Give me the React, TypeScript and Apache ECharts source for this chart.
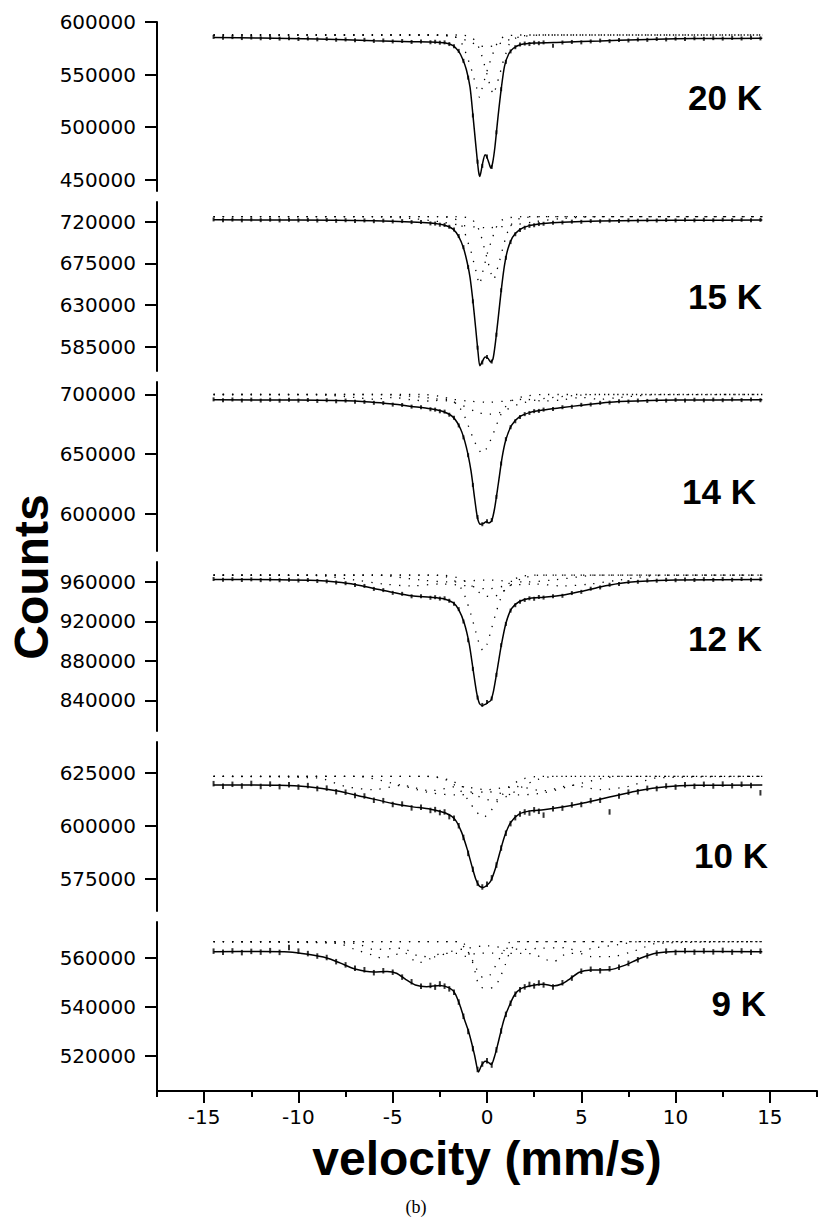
import { useEffect, useRef } from "react";
import * as echarts from "echarts";

// ---------- data ----------
const velocity = [
  -14.5, -14, -13.5, -13, -12.5, -12, -11.5, -11, -10.5, -10, -9.5, -9, -8.5, -8, -7.5, -7, -6.5, -6, -5.5, -5, -4.5, -4, -3.5, -3,
  -2.75, -2.5, -2.25, -2, -1.75, -1.5, -1.25, -1, -0.75, -0.5, -0.25, 0, 0.25, 0.5, 0.75, 1, 1.25, 1.5, 1.75, 2, 2.25, 2.5, 2.75,
  3, 3.5, 4, 4.5, 5, 5.5, 6, 6.5, 7, 7.5, 8, 8.5, 9, 9.5, 10, 10.5, 11, 11.5, 12, 12.5, 13, 13.5, 14, 14.5,
];

const obs20K = [
  585800, 585000, 585600, 584700, 585200, 584500, 584900, 584200, 584600, 583800, 584300, 583500, 583900, 583100, 583400, 582600, 583000, 582000, 582400, 581500, 581900, 581000, 581500, 580700,
  581200, 580300, 580600, 579000, 577000, 572500, 563000, 547000, 511000, 467000, 463000, 472000, 462000, 495000, 536000, 562000, 572000, 576000, 578500, 579500, 579000, 580300, 579800,
  580600, 577500, 580500, 581000, 580600, 581500, 582300, 581800, 582800, 582400, 583300, 583000, 583800, 583400, 584200, 583800, 584500, 584000, 584600, 584200, 584800, 584300, 584900, 584400,
];
const obs15K = [
  722500, 721600, 722300, 721500, 722400, 721700, 722200, 721400, 722100, 721500, 722000, 721300, 721800, 721000, 721600, 720900, 721400, 720600, 721100, 720300, 720700, 719600, 719800, 718200,
  718000, 716800, 716500, 714500, 711500, 704500, 692500, 671000, 634000, 584000, 568000, 574000, 569000, 598000, 646000, 681000, 698000, 706500, 711000, 713500, 715500, 716200, 717500,
  717800, 718900, 719200, 720100, 719900, 720700, 720500, 721200, 720900, 721500, 721100, 721700, 721300, 721900, 721400, 722000, 721500, 722100, 721600, 722200, 721700, 722100, 721600, 722000,
];
const obs14K = [
  695900, 695100, 695800, 695000, 695700, 694900, 695600, 694800, 695500, 694900, 695400, 694600, 695200, 694300, 694900, 694000, 693800, 693000, 692800, 691500, 691200, 689800, 689300, 687600,
  687300, 685900, 685600, 683000, 680500, 674000, 664000, 649000, 624000, 597000, 591000, 593500, 594500, 614000, 642000, 662500, 672500, 677500, 681000, 683500, 684500, 686000, 686200,
  687300, 687900, 689300, 689700, 691300, 691600, 693000, 693200, 694300, 694100, 694900, 694600, 695300, 694900, 695500, 695000, 695600, 695100, 695700, 695200, 695800, 695300, 695700, 695200,
];
const obs12K = [
  963000, 962200, 962900, 962000, 962700, 961900, 962600, 961800, 962400, 961500, 962000, 961000, 960700, 959500, 958800, 957000, 956000, 953000, 951800, 949000, 948000, 945500, 945600, 944000,
  944600, 943200, 943500, 941000, 938000, 932500, 920000, 901000, 872000, 843000, 835500, 838500, 842000, 866000, 896000, 917500, 931000, 936500, 940000, 941800, 943500, 943000, 944800,
  944200, 945500, 946000, 948800, 950000, 953200, 954500, 957200, 958000, 960000, 960200, 961500, 961300, 962200, 961800, 962600, 962000, 962800, 962100, 962900, 962200, 963000, 962300, 962800,
];
const obs10K = [
  619800, 618600, 619500, 618700, 619900, 618500, 619600, 618400, 619300, 618200, 618900, 617500, 617700, 616000, 615800, 614200, 614000, 612000, 611800, 610000, 610200, 608400, 608700, 607200,
  607600, 606200, 606500, 604300, 603500, 600000, 594500, 587000, 579500, 573000, 571200, 572500, 575500, 581500, 589500, 596500, 601000, 603800, 605500, 606500, 606000, 607500, 606800,
  605000, 608000, 608300, 609800, 610000, 611800, 612000, 606500, 614000, 615800, 616000, 617600, 617500, 618700, 618200, 619300, 618600, 619500, 618700, 619600, 618800, 619500, 618900, 615500,
];
const obs9K = [
  562800, 562300, 562900, 562200, 562700, 562400, 563000, 562300, 564300, 562800, 561800, 560800, 560200, 558500, 557200, 555800, 555200, 554000, 554800, 554200, 552200, 550300, 548500, 548800,
  548100, 549400, 548500, 547400, 546000, 542000, 536200, 530000, 523000, 514500, 516700, 518000, 516300, 522500, 530200, 537000, 541500, 545200, 547000, 548200, 549200, 548600, 549800,
  549000, 548200, 549900, 551800, 554600, 555400, 554800, 555600, 556200, 557800, 559300, 560900, 562000, 562800, 562300, 563000, 562400, 562900, 562500, 563100, 562400, 562900, 562300, 562800,
];

const fit20K = [
  [-14.5, 585300], [-12, 584800], [-9, 583800], [-6, 582200], [-4, 581300], [-3, 581000], [-2.2, 580000], [-1.8, 577500], [-1.5, 572000], [-1.3, 565000], [-1.1, 555000], [-0.9, 538000], [-0.75, 512000], [-0.6, 484000], [-0.45, 458000], [-0.38, 453000], [-0.25, 464000], [-0.1, 473500], [0, 471000], [0.1, 466000], [0.2, 461000], [0.3, 466000], [0.42, 481000], [0.58, 509000], [0.76, 537000], [0.93, 558000], [1.15, 569500], [1.4, 575000], [1.8, 578500], [2.5, 580000], [4, 580800], [6, 582000], [8, 583200], [10, 584000], [12, 584300], [14.6, 584500],
];
const fit15K = [
  [-14.5, 722000], [-10, 721800], [-6, 721000], [-4, 719800], [-3, 718500], [-2.2, 716000], [-1.8, 712000], [-1.5, 704000], [-1.25, 692000], [-1.05, 676000], [-0.9, 660000], [-0.75, 635000], [-0.6, 605000], [-0.47, 578000], [-0.38, 564500], [-0.25, 569000], [-0.1, 574000], [0.05, 572500], [0.2, 568500], [0.32, 572000], [0.45, 590000], [0.6, 617000], [0.75, 645000], [0.92, 672000], [1.1, 690000], [1.35, 703000], [1.7, 711000], [2.2, 715500], [3, 718000], [4, 719500], [6, 720800], [10, 721500], [14.6, 721800],
];
const fit14K = [
  [-14.5, 695500], [-10, 695300], [-7, 694500], [-5, 692000], [-4, 690000], [-3, 688000], [-2.3, 685500], [-1.8, 681000], [-1.4, 671000], [-1.1, 656000], [-0.85, 636000], [-0.65, 612000], [-0.5, 596000], [-0.35, 591000], [-0.2, 591500], [-0.05, 593000], [0.1, 592000], [0.25, 594000], [0.4, 604000], [0.6, 625000], [0.8, 647000], [1.0, 662000], [1.3, 674000], [1.7, 681000], [2.3, 685000], [3, 687000], [4, 689000], [5, 691000], [6.5, 693500], [8, 694500], [10, 695300], [14.6, 695500],
];
const fit12K = [
  [-14.5, 962500], [-11, 962300], [-9, 961500], [-8, 960000], [-7, 957500], [-6, 953500], [-5, 949500], [-4, 946000], [-3, 944500], [-2.3, 943000], [-1.8, 939000], [-1.5, 932000], [-1.2, 918000], [-0.95, 898000], [-0.75, 873000], [-0.55, 848000], [-0.4, 837000], [-0.25, 835000], [-0.1, 836000], [0.05, 838000], [0.2, 840000], [0.35, 850000], [0.55, 872000], [0.75, 895000], [1.0, 918000], [1.3, 933000], [1.7, 940000], [2.3, 943500], [3, 944500], [4, 946500], [5, 950500], [6, 955000], [7, 958500], [8, 960500], [10, 962000], [14.6, 962500],
];
const fit10K = [
  [-14.5, 619200], [-11, 619000], [-9.5, 618300], [-8, 616500], [-6.5, 613500], [-5, 610500], [-4, 609000], [-3, 607800], [-2.2, 606000], [-1.7, 603000], [-1.35, 597000], [-1.05, 589000], [-0.8, 581000], [-0.6, 575000], [-0.4, 571500], [-0.2, 571000], [0, 572000], [0.2, 574000], [0.45, 580000], [0.7, 588000], [0.95, 595500], [1.25, 601500], [1.7, 605500], [2.3, 607000], [3, 607500], [4, 608800], [5, 610500], [6, 612500], [7, 614500], [8, 616500], [9.5, 618300], [11, 619000], [14.6, 619200],
];
const fit9K = [
  [-14.5, 562600], [-12, 562700], [-10.5, 562500], [-9.5, 561500], [-8.5, 560000], [-7.8, 558000], [-7, 555500], [-6, 554300], [-5.3, 554500], [-4.8, 553800], [-4.3, 551200], [-3.8, 549000], [-3.2, 548300], [-2.5, 548800], [-2, 547800], [-1.7, 545600], [-1.45, 541000], [-1.2, 535000], [-1, 530600], [-0.82, 525500], [-0.65, 520000], [-0.45, 513500], [-0.3, 516000], [-0.1, 517800], [0.05, 517500], [0.23, 516500], [0.4, 519800], [0.58, 525000], [0.8, 532000], [0.95, 536000], [1.2, 540800], [1.45, 544800], [1.8, 547500], [2.4, 548800], [3, 549300], [3.5, 548600], [4, 549500], [4.4, 551500], [4.9, 554200], [5.5, 555100], [6.5, 555200], [7.3, 557000], [8.1, 559800], [9, 562000], [10, 562700], [14.6, 562600],
];

const dot20K_a = [[-14.5, 587600], [-2.5, 587600], [-1.8, 586500], [-1.5, 583600], [-1.25, 576500], [-1.05, 566500], [-0.87, 557500], [-0.7, 547000], [-0.55, 537500], [-0.4, 528500], [-0.25, 537500], [-0.1, 547000], [0.07, 557500], [0.25, 566500], [0.45, 576500], [0.7, 583600], [1.0, 586500], [1.7, 587600], [14.6, 587600]];
const dot20K_b = [[-14.5, 587600], [-1.5, 587600], [-0.9, 586000], [-0.6, 581500], [-0.35, 572000], [-0.15, 560000], [0.05, 547000], [0.2, 537000], [0.35, 531000], [0.5, 540000], [0.67, 549500], [0.8, 559000], [0.98, 568600], [1.15, 578000], [1.5, 584500], [2, 587000], [3, 587600], [14.6, 587600]];
const dot20K_c = [[-14.5, 587600], [-3, 587600], [-1.8, 586000], [-1, 582000], [-0.5, 578000], [0, 576500], [0.5, 578000], [1, 582000], [1.8, 586000], [3, 587600], [14.6, 587600]];

const dot15K_a = [[-14.5, 725400], [-2.6, 725400], [-1.9, 724000], [-1.5, 720500], [-1.25, 712000], [-1.05, 700000], [-0.85, 688000], [-0.7, 676000], [-0.55, 664000], [-0.4, 652500], [-0.25, 664000], [-0.1, 676000], [0.05, 688000], [0.25, 700000], [0.45, 712000], [0.7, 720500], [1.1, 724000], [1.8, 725400], [14.6, 725400]];
const dot15K_b = [[-14.5, 725400], [-1.6, 725400], [-0.9, 723500], [-0.6, 718000], [-0.35, 707000], [-0.15, 692000], [0.05, 677000], [0.2, 665000], [0.35, 657500], [0.5, 666000], [0.67, 678000], [0.82, 690000], [1.0, 703000], [1.2, 714000], [1.5, 721500], [2, 724500], [3, 725400], [14.6, 725400]];
const dot15K_c = [[-14.5, 725400], [-6, 725400], [-4, 723500], [-2.5, 720000], [-1.3, 716000], [0, 713500], [1.3, 716000], [2.5, 720000], [4, 723500], [6, 725400], [14.6, 725400]];

const dot14K_a = [[-14.5, 700000], [-3.5, 700000], [-2.5, 698500], [-1.9, 695500], [-1.5, 690000], [-1.2, 682000], [-0.95, 672000], [-0.7, 662000], [-0.45, 654000], [-0.25, 650500], [-0.05, 654000], [0.2, 662000], [0.45, 672000], [0.7, 682000], [1.0, 690000], [1.4, 695500], [2.0, 698500], [3, 700000], [14.6, 700000]];
const dot14K_b = [[-14.5, 700000], [-6, 700000], [-3, 697000], [-1.5, 692000], [-0.5, 685000], [0.1, 683500], [0.7, 685000], [1.7, 692000], [3.2, 697000], [6, 700000], [14.6, 700000]];
const dot14K_c = [[-14.5, 700000], [-9, 699800], [-7, 697500], [-6, 696000], [-5, 697500], [-4, 695500], [-3, 694500], [-2, 696000], [-1, 694500], [0, 693500], [1, 694500], [2, 696000], [3, 694500], [4, 695500], [5, 697500], [6, 696000], [7, 697500], [9, 699800], [14.6, 700000]];

const dot12K_a = [[-14.5, 967000], [-3, 967000], [-2.2, 965500], [-1.7, 961000], [-1.35, 953000], [-1.1, 942000], [-0.85, 927000], [-0.6, 910000], [-0.4, 897000], [-0.2, 890500], [0, 897000], [0.2, 910000], [0.45, 927000], [0.7, 942000], [0.95, 953000], [1.3, 961000], [1.8, 965500], [2.6, 967000], [14.6, 967000]];
const dot12K_b = [[-14.5, 967000], [-2.5, 967000], [-1.5, 964000], [-0.8, 956000], [-0.3, 948000], [0.2, 945000], [0.7, 948000], [1.2, 956000], [1.9, 964000], [2.9, 967000], [14.6, 967000]];
const dot12K_c = [[-14.5, 967000], [-9, 966500], [-7, 962000], [-5.5, 958000], [-4, 956000], [-2.5, 958000], [-1, 956000], [0, 953000], [1, 956000], [2.5, 958000], [4, 956000], [5.5, 958000], [7, 962000], [9, 966500], [14.6, 967000]];
const dot12K_d = [[-14.5, 967000], [-6, 967000], [-3.5, 962000], [-2, 960000], [0, 962000], [2, 960000], [3.5, 962000], [6, 967000], [14.6, 967000]];

const dot10K_a = [[-14.5, 623200], [-3.2, 623200], [-2.3, 622000], [-1.7, 619000], [-1.3, 615500], [-0.95, 611500], [-0.6, 607000], [-0.2, 604000], [0.2, 607000], [0.55, 611500], [0.9, 615500], [1.3, 619000], [1.9, 622000], [2.8, 623200], [14.6, 623200]];
const dot10K_b = [[-14.5, 623200], [-3, 623200], [-2, 621500], [-1.2, 618000], [-0.5, 614000], [0.3, 612000], [1.1, 614000], [1.8, 618000], [2.6, 621500], [3.6, 623200], [14.6, 623200]];
const dot10K_c = [[-14.5, 623200], [-9, 622500], [-7.5, 618500], [-6, 617000], [-4.5, 619000], [-3, 616500], [-1.5, 618500], [0, 617000], [1.5, 618500], [3, 616500], [4.5, 619000], [6, 617000], [7.5, 618500], [9, 622500], [14.6, 623200]];
const dot10K_d = [[-14.5, 623200], [-7, 623200], [-5, 620000], [-3, 615500], [-1.5, 614500], [0, 616000], [1.5, 614500], [3, 615500], [5, 620000], [7, 623200], [14.6, 623200]];

const dot9K_a = [[-14.5, 566660], [-1.6, 566660], [-1.1, 563300], [-0.82, 559500], [-0.6, 553500], [-0.4, 548500], [0, 547600], [0.4, 548300], [0.67, 551700], [1.0, 557900], [1.25, 563000], [1.7, 566660], [14.6, 566660]];
const dot9K_b = [[-14.5, 566660], [-1.4, 566660], [-0.9, 561000], [-0.55, 555500], [-0.2, 552000], [0.15, 553000], [0.5, 557500], [0.9, 563000], [1.3, 566660], [14.6, 566660]];
const dot9K_c = [[-14.5, 566660], [-8, 566000], [-7, 563500], [-6, 561000], [-5.5, 559800], [-5, 561200], [-4.3, 561900], [-3.7, 558000], [-3, 559800], [-2.4, 561900], [-1.6, 561900], [-1.1, 560700], [-0.5, 562000], [0.3, 562000], [0.85, 561900], [1.9, 561900], [2.5, 561500], [3, 559800], [3.5, 558500], [4.3, 561900], [4.9, 561900], [5.5, 560600], [6.6, 560600], [7.7, 562600], [8.2, 564000], [9, 566000], [14.6, 566660]];
const dot9K_d = [[-14.5, 566660], [-7, 566000], [-6, 563500], [-4.5, 564000], [-3.7, 561000], [-2.7, 560500], [-2, 562500], [-1, 564000], [0, 565000], [1, 564000], [2, 563500], [2.8, 564000], [4.2, 564200], [4.9, 562600], [5.6, 564000], [7, 565500], [8, 566660], [14.6, 566660]];

const panelLabels = ["20 K", "15 K", "14 K", "12 K", "10 K", "9 K"];
const yTickValues = [
  [450000, 500000, 550000, 600000],
  [585000, 630000, 675000, 720000],
  [600000, 650000, 700000],
  [840000, 880000, 920000, 960000],
  [575000, 600000, 625000],
  [520000, 540000, 560000],
];
const yMin = [439100, 558800, 568500, 809100, 559900, 505700];
const yMax = [600000, 741300, 710500, 980250, 639400, 574700];
const xMajorTicks = [-15, -10, -5, 0, 5, 10, 15];
const xMinorTicks = [-17.5, -12.5, -7.5, -2.5, 2.5, 7.5, 12.5, 17.5];

const observed = [obs20K, obs15K, obs14K, obs12K, obs10K, obs9K];
const fits = [fit20K, fit15K, fit14K, fit12K, fit10K, fit9K];
const dotted = [
  [dot20K_a, dot20K_b, dot20K_c],
  [dot15K_a, dot15K_b, dot15K_c],
  [dot14K_a, dot14K_b, dot14K_c],
  [dot12K_a, dot12K_b, dot12K_c, dot12K_d],
  [dot10K_a, dot10K_b, dot10K_c, dot10K_d],
  [dot9K_a, dot9K_b, dot9K_c, dot9K_d],
];

// ---------- layout ----------
const W = 818;
const H = 1218;
const GRID_LEFT = 157;
const GRID_TOPS = [22, 202, 382, 562, 742, 922];
const GRID_H = 169;
const LABEL_Y = [97, 296, 491, 638, 855, 1003];
const LABEL_RIGHT = [762, 762, 756, 762, 768, 766];
const TICK_FONT = "DejaVu Sans";

const plain = (v: number) => String(v);

export default function App() {
  const ref = useRef<HTMLDivElement>(null);

  useEffect(() => {
    if (!ref.current) return;
    const chart = echarts.init(ref.current, null, { renderer: "svg" });

    const grids = GRID_TOPS.map((t) => ({ left: GRID_LEFT, right: 1, top: t, height: GRID_H }));

    const xAxes: any[] = GRID_TOPS.map((_, i) => ({
      type: "value",
      gridIndex: i,
      min: -17.5,
      max: 17.5,
      show: i === 5,
      position: "bottom",
      axisLine: { show: true, onZero: false, lineStyle: { color: "#000", width: 2 } },
      axisTick: { show: true, customValues: xMajorTicks, length: 12, lineStyle: { color: "#000", width: 2 } },
      axisLabel: { show: true, customValues: xMajorTicks, formatter: plain, color: "#000", fontFamily: TICK_FONT, fontSize: 20, margin: 16, lineHeight: 20 },
      splitLine: { show: false },
    }));
    xAxes.push({
      type: "value",
      gridIndex: 5,
      min: -17.5,
      max: 17.5,
      position: "bottom",
      offset: 0,
      axisLine: { show: false, onZero: false },
      axisTick: { show: true, customValues: xMinorTicks, length: 6, lineStyle: { color: "#000", width: 2 } },
      axisLabel: { show: false },
      splitLine: { show: false },
    });

    const yAxes = GRID_TOPS.map((_, i) => ({
      type: "value",
      gridIndex: i,
      min: yMin[i],
      max: yMax[i],
      axisLine: { show: true, onZero: false, lineStyle: { color: "#000", width: 2 } },
      axisTick: { show: true, customValues: yTickValues[i], length: 12, lineStyle: { color: "#000", width: 2 } },
      axisLabel: { show: true, customValues: yTickValues[i], formatter: plain, color: "#000", fontFamily: TICK_FONT, fontSize: 20, margin: 21 },
      splitLine: { show: false },
    }));

    const series: any[] = [];
    for (let i = 0; i < 6; i++) {
      dotted[i].forEach((comp) => {
        series.push({
          type: "line",
          xAxisIndex: i,
          yAxisIndex: i,
          data: comp,
          showSymbol: false,
          smooth: 0.3,
          silent: true,
          lineStyle: { color: "#000", width: 1.3, type: [1.3, 8] },
        });
      });
      series.push({
        type: "line",
        xAxisIndex: i,
        yAxisIndex: i,
        data: fits[i],
        showSymbol: false,
        smooth: 0.25,
        silent: true,
        lineStyle: { color: "#000", width: 1.5 },
      });
      series.push({
        type: "scatter",
        xAxisIndex: i,
        yAxisIndex: i,
        data: velocity.map((v, k) => [v, observed[i][k]]),
        symbol: "rect",
        symbolSize: i >= 4 ? [2, 5.5] : [2, 4],
        silent: true,
        itemStyle: { color: "#000" },
      });
    }

    const graphics: any[] = [
      {
        type: "text",
        x: 31,
        y: 577,
        rotation: Math.PI / 2,
        style: { text: "Counts", fontFamily: "Liberation Sans", fontWeight: "bold", fontSize: 48, fill: "#000", align: "center", verticalAlign: "middle" },
      },
      {
        type: "text",
        x: 487,
        y: 1158,
        style: { text: "velocity (mm/s)", fontFamily: "Liberation Sans", fontWeight: "bold", fontSize: 48, lineHeight: 36, fill: "#000", align: "center", verticalAlign: "middle" },
      },
      {
        type: "text",
        x: 416,
        y: 1207,
        style: { text: "(b)", fontFamily: "Liberation Serif", fontSize: 18, fill: "#000", align: "center", verticalAlign: "middle" },
      },
    ];
    panelLabels.forEach((t, i) => {
      graphics.push({
        type: "text",
        x: LABEL_RIGHT[i],
        y: LABEL_Y[i],
        style: { text: t, fontFamily: "Liberation Sans", fontWeight: "bold", fontSize: 35, fill: "#000", align: "right", verticalAlign: "middle" },
      });
    });

    chart.setOption({
      animation: false,
      backgroundColor: "#fff",
      grid: grids,
      xAxis: xAxes,
      yAxis: yAxes,
      series,
      graphic: graphics,
    });

    return () => chart.dispose();
  }, []);

  return <div ref={ref} style={{ position: "absolute", left: 0, top: 0, width: W, height: H }} />;
}
